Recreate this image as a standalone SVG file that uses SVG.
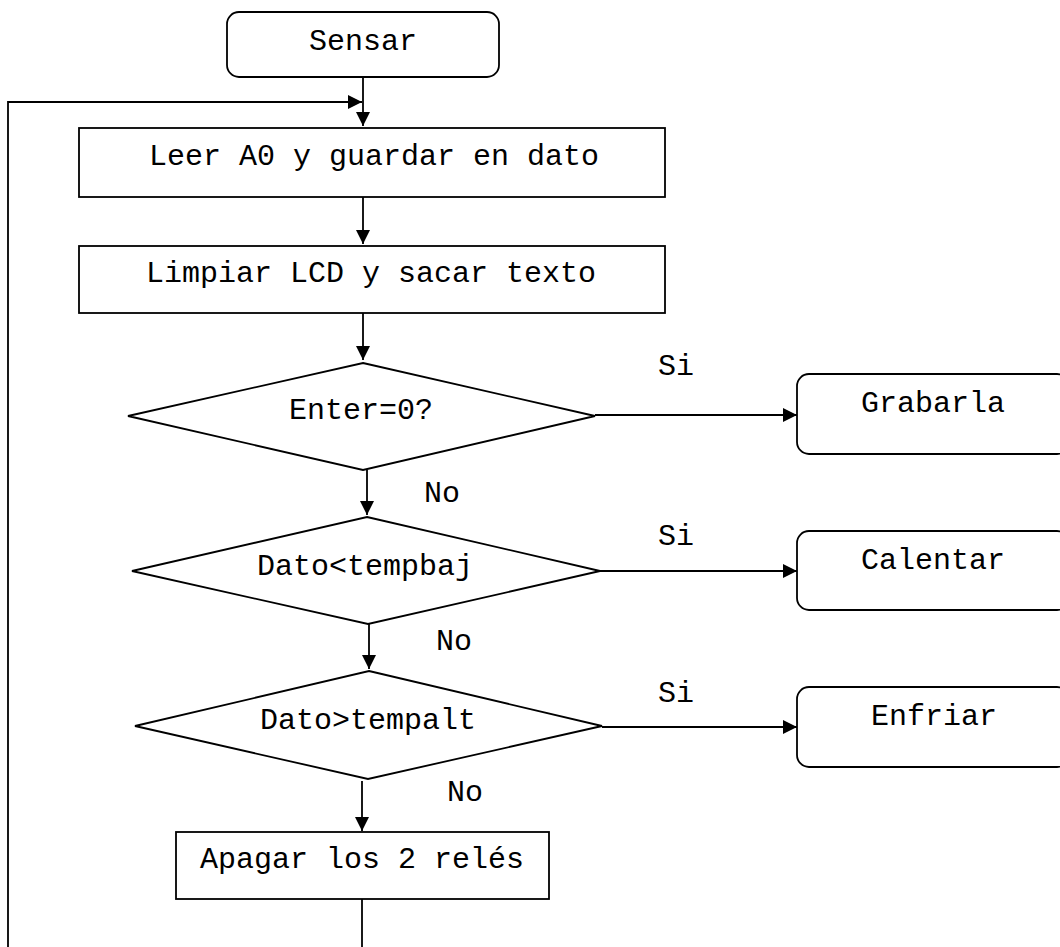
<svg xmlns="http://www.w3.org/2000/svg" width="1060" height="947" viewBox="0 0 1060 947">
<style>
.shape{fill:#fff;stroke:#000;stroke-width:1.8}
.conn{fill:none;stroke:#000;stroke-width:1.8}
text{font-family:"Liberation Mono","Courier New",monospace;font-size:30px;fill:#000}
.c{text-anchor:middle}
</style>
<defs>
<marker id="ah" markerUnits="userSpaceOnUse" markerWidth="15" markerHeight="15" refX="14" refY="7" orient="auto">
<path d="M0,0 L14,7 L0,14 z" fill="#000"/>
</marker>
</defs>
<rect width="1060" height="947" fill="#fff"/>
<g id="connectors">
<path class="conn" d="M363,77 V126" marker-end="url(#ah)"/>
<path class="conn" d="M8,947 V102 H362" marker-end="url(#ah)"/>
<path class="conn" d="M363,197 V244" marker-end="url(#ah)"/>
<path class="conn" d="M363,313 V360" marker-end="url(#ah)"/>
<path class="conn" d="M367,470 V515" marker-end="url(#ah)"/>
<path class="conn" d="M369,624 V669" marker-end="url(#ah)"/>
<path class="conn" d="M362,781 V831" marker-end="url(#ah)"/>
<path class="conn" d="M362,899 V947"/>
<path class="conn" d="M595,415 H797" marker-end="url(#ah)"/>
<path class="conn" d="M600,571 H797" marker-end="url(#ah)"/>
<path class="conn" d="M602,727 H797" marker-end="url(#ah)"/>
<text x="676" y="375" class="c">Si</text>
<text x="676" y="545" class="c">Si</text>
<text x="676" y="702" class="c">Si</text>
<text x="442" y="502" class="c">No</text>
<text x="454" y="650" class="c">No</text>
<text x="465" y="801" class="c">No</text>
</g>
<g id="sensar">
<rect class="shape" x="227" y="12" width="272" height="65" rx="12"/>
<text x="363" y="50" class="c">Sensar</text>
</g>
<g id="leer">
<rect class="shape" x="79" y="128" width="586" height="69"/>
<text x="374" y="165" class="c">Leer A0 y guardar en dato</text>
</g>
<g id="limpiar">
<rect class="shape" x="79" y="246" width="586" height="67"/>
<text x="371" y="282" class="c">Limpiar LCD y sacar texto</text>
</g>
<g id="enter">
<polygon class="shape" points="363,363 595,416 363,470 128,416"/>
<text x="361" y="419" class="c">Enter=0?</text>
</g>
<g id="tempbaj">
<polygon class="shape" points="367,517 600,571 368,624 132,571"/>
<text x="365" y="575" class="c">Dato&lt;tempbaj</text>
</g>
<g id="tempalt">
<polygon class="shape" points="369,671 602,726 368,779 135,726"/>
<text x="368" y="729" class="c">Dato&gt;tempalt</text>
</g>
<g id="apagar">
<rect class="shape" x="176" y="832" width="373" height="67"/>
<text x="362" y="868" class="c">Apagar los 2 relés</text>
</g>
<g id="grabarla">
<rect class="shape" x="797" y="374" width="272" height="80" rx="12"/>
<text x="933" y="412" class="c">Grabarla</text>
</g>
<g id="calentar">
<rect class="shape" x="797" y="531" width="272" height="79" rx="12"/>
<text x="933" y="569" class="c">Calentar</text>
</g>
<g id="enfriar">
<rect class="shape" x="797" y="687" width="272" height="80" rx="12"/>
<text x="934" y="725" class="c">Enfriar</text>
</g>
</svg>
